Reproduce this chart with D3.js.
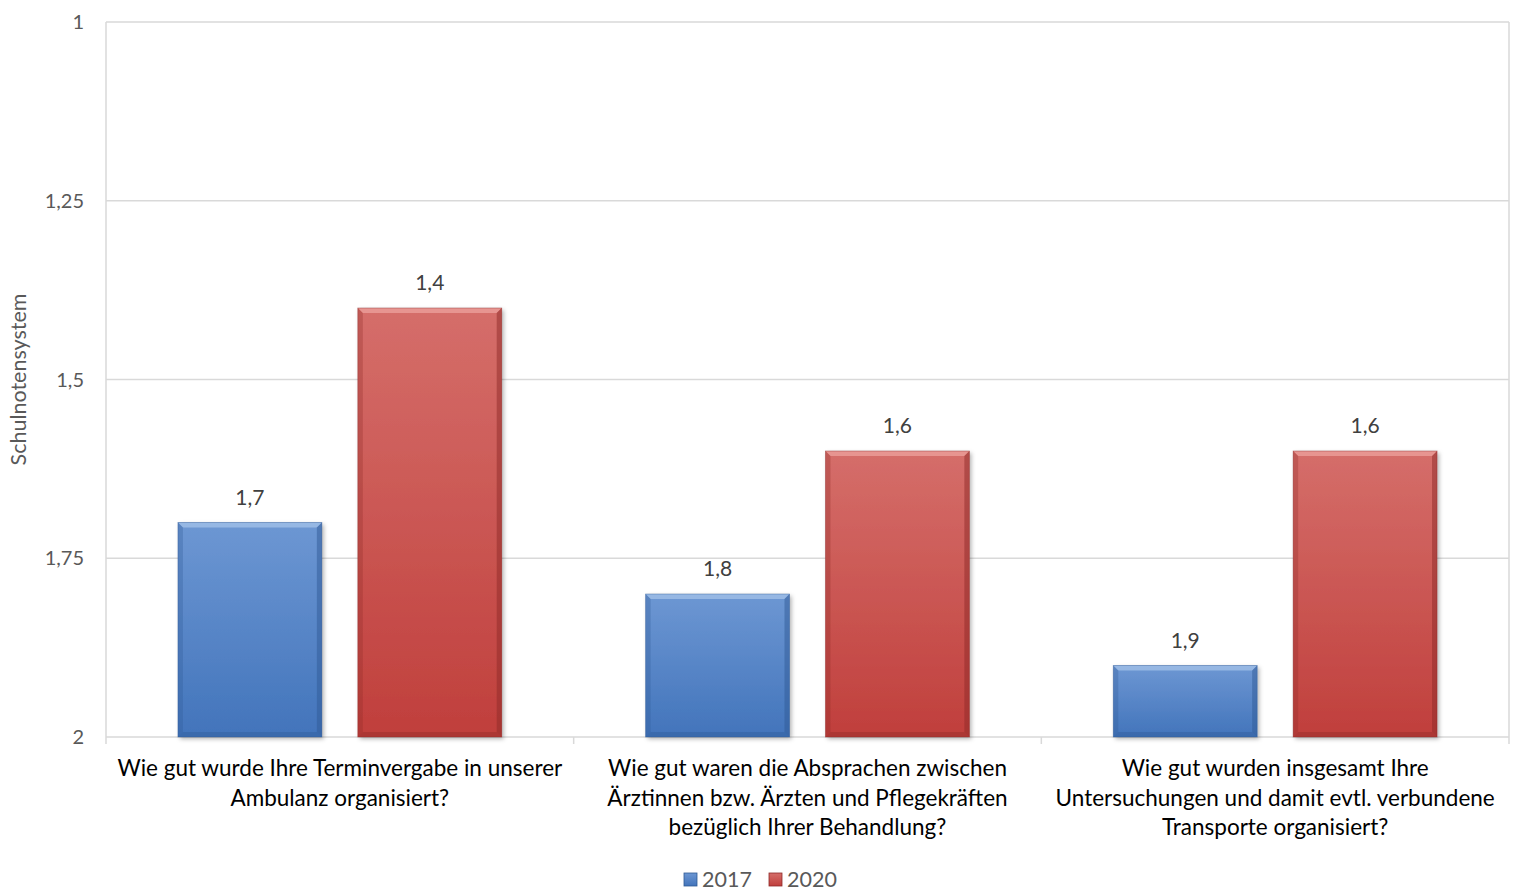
<!DOCTYPE html>
<html>
<head>
<meta charset="utf-8">
<script src="https://cdn.jsdelivr.net/npm/d3@7"></script>
<style>
  body { margin: 0; background: #fff; }
  svg { display: block; font-family: Lato, "Open Sans", sans-serif; }
</style>
</head>
<body>
<div id="chart"></div>
<script>
const categories = [
    ["Wie gut wurde Ihre Terminvergabe in unserer", "Ambulanz organisiert?"],
    ["Wie gut waren die Absprachen zwischen", "Ärztinnen bzw. Ärzten und Pflegekräften", "bezüglich Ihrer Behandlung?"],
    ["Wie gut wurden insgesamt Ihre", "Untersuchungen und damit evtl. verbundene", "Transporte organisiert?"]
]
const seriesNames = ["2017", "2020"]
const values2017 = [1.7, 1.8, 1.9]
const values2020 = [1.4, 1.6, 1.6]
const yTicks = [1, 1.25, 1.5, 1.75, 2]
const yTitle = "Schulnotensystem"

const width = 1516, height = 891
const margin = {top: 22, right: 7, bottom: 154, left: 106}

const colors = {
    "2017": {top: "#6d97d3", bottom: "#4274bb", light: "#9dbde6", dark: "#2f5a95"},
    "2020": {top: "#d56e6a", bottom: "#c03f3c", light: "#ea9c98", dark: "#8e2a28"}
}

const svg = d3.select("#chart").append("svg")
    .attr("width", width)
    .attr("height", height)

const defs = svg.append("defs")
seriesNames.forEach(s => {
    const g = defs.append("linearGradient")
        .attr("id", "grad" + s)
        .attr("x1", 0).attr("y1", 0).attr("x2", 0).attr("y2", 1)
    g.append("stop").attr("offset", "0%").attr("stop-color", colors[s].top)
    g.append("stop").attr("offset", "100%").attr("stop-color", colors[s].bottom)
})
const shadow = defs.append("filter").attr("id", "shadow")
    .attr("x", "-10%").attr("y", "-10%").attr("width", "130%").attr("height", "130%")
shadow.append("feDropShadow")
    .attr("dx", 2).attr("dy", 2).attr("stdDeviation", 2)
    .attr("flood-color", "#000").attr("flood-opacity", 0.3)

const x0 = d3.scaleBand()
    .domain(d3.range(categories.length))
    .range([margin.left, width - margin.right])

const x1 = d3.scaleBand()
    .domain(seriesNames)
    .range([0, x0.bandwidth()])
    .paddingInner(0.2)
    .paddingOuter(0.4)

// inverted: 1 at top, 2 at bottom
const y = d3.scaleLinear()
    .domain([1, 2])
    .range([margin.top, height - margin.bottom])

// gridlines
svg.append("g")
    .selectAll("line")
    .data(yTicks)
    .join("line")
        .attr("x1", margin.left)
        .attr("x2", width - margin.right)
        .attr("y1", d => y(d))
        .attr("y2", d => y(d))
        .attr("stroke", "#d9d9d9")
        .attr("stroke-width", 1.5)

// plot borders left/right
svg.append("line")
    .attr("x1", margin.left).attr("x2", margin.left)
    .attr("y1", y(1)).attr("y2", y(2))
    .attr("stroke", "#d9d9d9").attr("stroke-width", 1.5)
svg.append("line")
    .attr("x1", width - margin.right).attr("x2", width - margin.right)
    .attr("y1", y(1)).attr("y2", y(2))
    .attr("stroke", "#d9d9d9").attr("stroke-width", 1.5)

// x axis ticks at category boundaries
const boundaries = d3.range(categories.length + 1).map(i => margin.left + i * x0.step())
svg.append("g")
    .selectAll("line")
    .data(boundaries)
    .join("line")
        .attr("x1", d => d).attr("x2", d => d)
        .attr("y1", y(2)).attr("y2", y(2) + 7)
        .attr("stroke", "#d9d9d9").attr("stroke-width", 1.5)

// y tick labels
svg.append("g")
    .selectAll("text")
    .data(yTicks)
    .join("text")
        .attr("x", 84)
        .attr("y", d => y(d))
        .attr("dy", "0.35em")
        .attr("text-anchor", "end")
        .attr("font-size", 20)
        .attr("fill", "#595959")
        .text(d => String(d).replace(".", ","))

svg.append("text")
    .attr("transform", `translate(26, ${y(1.5)}) rotate(-90)`)
    .attr("text-anchor", "middle")
    .attr("font-size", 21.5)
    .attr("fill", "#595959")
    .text(yTitle)

// bars
const barData = []
categories.forEach((c, i) => {
    barData.push({cat: i, series: "2017", value: values2017[i]})
    barData.push({cat: i, series: "2020", value: values2020[i]})
})

const bev = 5
const bars = svg.append("g")
    .selectAll("g")
    .data(barData)
    .join("g")
        .attr("transform", d => `translate(${x0(d.cat) + x1(d.series)},0)`)

bars.each(function(d) {
    const g = d3.select(this)
    const w = x1.bandwidth()
    const top = y(d.value)
    const bot = y(2)
    const c = colors[d.series]
    g.append("rect")
        .attr("x", 0).attr("y", top)
        .attr("width", w).attr("height", bot - top)
        .attr("fill", `url(#grad${d.series})`)
        .attr("filter", "url(#shadow)")
    // bevel edges
    g.append("polygon")
        .attr("points", `0,${top} ${w},${top} ${w - bev},${top + bev} ${bev},${top + bev}`)
        .attr("fill", c.light).attr("opacity", 0.85)
    g.append("polygon")
        .attr("points", `0,${top} ${bev},${top + bev} ${bev},${bot - bev} 0,${bot}`)
        .attr("fill", c.dark).attr("opacity", 0.3)
    g.append("polygon")
        .attr("points", `${w},${top} ${w - bev},${top + bev} ${w - bev},${bot - bev} ${w},${bot}`)
        .attr("fill", c.dark).attr("opacity", 0.5)
    g.append("polygon")
        .attr("points", `0,${bot} ${bev},${bot - bev} ${w - bev},${bot - bev} ${w},${bot}`)
        .attr("fill", c.dark).attr("opacity", 0.4)
    g.append("rect")
        .attr("x", 0).attr("y", top)
        .attr("width", w).attr("height", bot - top)
        .attr("fill", "none")
        .attr("stroke", c.dark).attr("stroke-opacity", 0.5).attr("stroke-width", 0.8)
})

// value labels
svg.append("g")
    .selectAll("text")
    .data(barData)
    .join("text")
        .attr("x", d => x0(d.cat) + x1(d.series) + x1.bandwidth() / 2)
        .attr("y", d => y(d.value) - 18)
        .attr("text-anchor", "middle")
        .attr("font-size", 21)
        .attr("fill", "#404040")
        .text(d => String(d.value).replace(".", ","))

// category labels
const catLabels = svg.append("g")
    .selectAll("text")
    .data(categories)
    .join("text")
        .attr("text-anchor", "middle")
        .attr("font-size", 22.5)
        .attr("fill", "#000")

catLabels.selectAll("tspan")
    .data((d, i) => d.map(line => ({line, i})))
    .join("tspan")
        .attr("x", d => x0(d.i) + x0.bandwidth() / 2)
        .attr("y", (d, j) => 776 + j * 29.5)
        .text(d => d.line)

// legend
const legendX = [684, 769]
const legend = svg.append("g")
    .selectAll("g")
    .data(seriesNames)
    .join("g")
        .attr("transform", (d, i) => `translate(${legendX[i]}, 873)`)
legend.append("rect")
    .attr("width", 13).attr("height", 13)
    .attr("fill", d => `url(#grad${d})`)
    .attr("stroke", d => colors[d].dark).attr("stroke-width", 0.8)
legend.append("text")
    .attr("x", 18).attr("y", 14)
    .attr("font-size", 21.5)
    .attr("fill", "#595959")
    .text(d => d)
</script>
</body>
</html>
